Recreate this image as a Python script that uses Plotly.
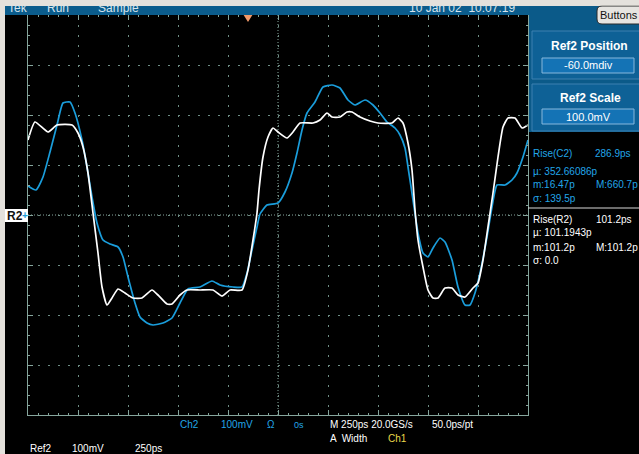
import plotly.graph_objects as go

# ---- data (time in ps, amplitude in mV) ----
t_ref2 = [0, 35, 100, 145, 220, 250, 275, 300, 325, 350, 370, 395, 420, 450, 485,
          525, 570, 620, 650, 695, 720, 760, 795, 860, 925, 970, 1010, 1070, 1100, 1125,
          1145, 1155, 1175, 1200, 1225, 1250, 1295, 1325, 1360, 1425, 1460, 1495, 1520, 1560, 1595,
          1620, 1660, 1710, 1750, 1820, 1850, 1875, 1900, 1920, 1935, 1950, 1975, 2000, 2025, 2050,
          2085, 2120, 2150, 2185, 2225, 2250, 2275, 2300, 2325, 2350, 2375, 2400, 2435, 2470, 2500]
v_ref2 = [150, 186, 166, 180, 180, 164, 136, 84, 4, -76, -144, -180, -166, -148, -156,
          -166, -166, -150, -160, -178, -178, -160, -150, -150, -150, -162, -150, -150, -110, -50,
          4, 50, 116, 156, 174, 166, 154, 166, 184, 184, 190, 204, 196, 196, 206,
          206, 196, 188, 184, 184, 194, 184, 144, 90, 10, -50, -104, -150, -166, -166,
          -146, -146, -160, -164, -146, -136, -90, -24, 44, 116, 176, 194, 194, 174, 180]

t_ch2 = [0, 40, 75, 110, 145, 175, 210, 235, 270, 295, 320, 345, 375, 410, 450,
         475, 500, 535, 560, 595, 625, 675, 720, 760, 800, 860, 920, 960, 1025, 1070,
         1095, 1120, 1145, 1160, 1195, 1250, 1285, 1320, 1345, 1370, 1395, 1435, 1475, 1520, 1560,
         1600, 1635, 1685, 1725, 1760, 1795, 1835, 1860, 1885, 1900, 1925, 1950, 1975, 2000, 2025,
         2060, 2085, 2120, 2150, 2185, 2210, 2235, 2260, 2295, 2320, 2345, 2385, 2420, 2445, 2475, 2500]
v_ch2 = [58, 50, 76, 126, 180, 224, 226, 204, 150, 96, 36, -16, -50, -58, -64,
         -84, -124, -176, -204, -216, -220, -216, -206, -176, -148, -144, -132, -140, -144, -144,
         -116, -70, -24, 2, 20, 24, 46, 84, 124, 170, 204, 226, 256, 260, 254,
         230, 220, 230, 220, 204, 186, 174, 160, 134, 96, 30, -36, -76, -84, -66,
         -46, -54, -90, -144, -180, -180, -156, -116, -44, 16, 60, 60, 70, 84, 116, 150]

x_range = [0, 2500]      # 10 div x 250 ps
y_range = [-400, 400]    # 8 div x 100 mV
x_div, y_div = 250, 100

W, H = 639, 454
L, R, T, B = 28, 528, 15, 415


def px(x):
    return (x - L) / (R - L)


def py(y):
    return (B - y) / (B - T)


GRID = "#6f8d85"
BORDER = "#86a69d"
BLUE = "#1a9ddb"
FONT = "Liberation Sans, Arial"

fig = go.Figure()
fig.add_trace(go.Scatter(x=t_ch2, y=v_ch2, mode="lines", name="Ch2",
                         line=dict(color=BLUE, width=1.7, shape="spline", smoothing=0.5),
                         hoverinfo="skip"))
fig.add_trace(go.Scatter(x=t_ref2, y=v_ref2, mode="lines", name="Ref2",
                         line=dict(color="#ffffff", width=1.7, shape="spline", smoothing=0.5),
                         hoverinfo="skip"))

common = dict(showgrid=True, gridcolor=GRID, gridwidth=1, griddash="2px,8px",
              zeroline=False, showline=True, linecolor=BORDER, linewidth=1,
              mirror="ticks", ticks="inside", ticklen=5, tickcolor=BORDER,
              showticklabels=False, fixedrange=True)
center = dict(showgrid=False, zeroline=False, showline=False, anchor="free", position=0.5,
              ticklen=3, tickcolor=BORDER, showticklabels=False)

fig.update_layout(
    width=W, height=H, autosize=False,
    margin=dict(l=L, r=W - R, t=T, b=H - B, pad=0),
    paper_bgcolor="#000000", plot_bgcolor="#000000",
    showlegend=False,
    xaxis=dict(range=x_range, tick0=0, dtick=x_div,
               minor=dict(dtick=x_div / 5, ticks="inside", ticklen=2, tickcolor=BORDER, showgrid=False),
               **common),
    yaxis=dict(range=y_range, tick0=0, dtick=y_div,
               minor=dict(dtick=y_div / 5, ticks="inside", ticklen=2, tickcolor=BORDER, showgrid=False),
               **common),
    xaxis2=dict(overlaying="x", range=x_range, tick0=0, dtick=x_div / 5, ticks="inside", **center),
    xaxis3=dict(overlaying="x", range=x_range, tick0=0, dtick=x_div / 5, ticks="outside", **center),
    yaxis2=dict(overlaying="y", range=y_range, tick0=0, dtick=y_div / 5, ticks="inside", **center),
    yaxis3=dict(overlaying="y", range=y_range, tick0=0, dtick=y_div / 5, ticks="outside", **center),
)

shapes = []


def rect(x0, y0, x1, y1, fill, line=None, lw=0):
    shapes.append(dict(type="rect", xref="paper", yref="paper",
                       x0=px(x0), x1=px(x1), y0=py(y1), y1=py(y0),
                       fillcolor=fill, line=dict(color=line or fill, width=lw), layer="above"))


# frame chrome
rect(0, 0, 5, H, "#e4e1dc")
rect(0, 0, W, 6, "#e4e1dc")
rect(5, 6, W, 15, "#0b5c8c")
rect(529, 6, W, 132, "#0b5a89")
rect(532, 31, W + 2, 79, "#0e6196", "#3d80b0", 1)
rect(532, 84, W + 2, 131, "#0e6196", "#3d80b0", 1)
rect(542, 58, 634, 73, "#1473b5", "#86b8dc", 1)
rect(542, 109, 634, 124, "#1473b5", "#86b8dc", 1)
# Buttons (rounded)
bx0, bx1, by0, by1, r = 597, 640, 6, 24, 5
path = (f"M {px(bx0 + r)},{py(by0)} L {px(bx1)},{py(by0)} L {px(bx1)},{py(by1)} "
        f"L {px(bx0 + r)},{py(by1)} Q {px(bx0)},{py(by1)} {px(bx0)},{py(by1 - r)} "
        f"L {px(bx0)},{py(by0 + r)} Q {px(bx0)},{py(by0)} {px(bx0 + r)},{py(by0)} Z")
shapes.append(dict(type="path", xref="paper", yref="paper", path=path,
                   fillcolor="#e6e4e0", line=dict(color="#2a2a2a", width=1), layer="above"))
# separator in measurement panel
shapes.append(dict(type="line", xref="paper", yref="paper", x0=px(528), x1=px(W), y0=py(208), y1=py(208),
                   line=dict(color="#d8d8d8", width=1), layer="above"))
# R2 marker
rect(5, 209, 28, 222, "#ffffff")
# center graticule lines
shapes.append(dict(type="line", xref="paper", yref="y", x0=0, x1=1, y0=0, y1=0,
                   line=dict(color=BORDER, width=1, dash="1px,2px"), layer="below"))
shapes.append(dict(type="line", xref="x", yref="paper", x0=1250, x1=1250, y0=0, y1=1,
                   line=dict(color=BORDER, width=1, dash="1px,2px"), layer="below"))
# trigger position marker
shapes.append(dict(type="path", xref="x", yref="paper",
                   path=f"M 1078,{py(15)} L 1122,{py(15)} L 1100,{py(22)} Z",
                   fillcolor="#f29a6a", line=dict(color="#f29a6a", width=0), layer="above"))
fig.update_layout(shapes=shapes)

ann = []


def text(s, x, y, color="#ffffff", size=10, anchor="left", bold=False, family=FONT):
    ann.append(dict(text=f"<b>{s}</b>" if bold else s, x=px(x), y=py(y), xref="paper", yref="paper",
                    xanchor=anchor, yanchor="middle", showarrow=False,
                    font=dict(color=color, size=size, family=family)))


HDR = "#d6e4ee"
text("Tek", 6, 8, HDR, 12)
text("Run", 45, 8, HDR, 12)
text("Sample", 96, 8, HDR, 12)
text("10 Jan 02  10:07:19", 407, 8, HDR, 12)
# grey window strip drawn over the top of the header texts (they are cut off in the screenshot)
ann.append(dict(text="", x=0, y=1, xref="paper", yref="paper", xanchor="left", yanchor="bottom",
                xshift=-L, yshift=T - 6, width=W, height=6, borderpad=0, bgcolor="#e4e1dc",
                showarrow=False))
text("Buttons", 619, 15, "#111111", 11, "center")

text("Ref2 Position", 589, 46, "#ffffff", 12, "center", True)
text("-60.0mdiv", 588, 65, "#ffffff", 11, "center")
text("Ref2 Scale", 590, 98, "#ffffff", 12, "center", True)
text("100.0mV", 588, 117, "#ffffff", 11, "center")

MB = "#22a6e8"
text("Rise(C2)", 531, 153, MB)
text("286.9ps", 593, 153, MB)
text("µ: 352.66086p", 531, 171, MB)
text("m:16.47p", 531, 184, MB)
text("M:660.7p", 594, 184, MB)
text("σ: 139.5p", 531, 198, MB)

text("Rise(R2)", 531, 219)
text("101.2ps", 594, 219)
text("µ: 101.1943p", 531, 233)
text("m:101.2p", 531, 247)
text("M:101.2p", 594, 247)
text("σ: 0.0", 531, 260)

text("R2", 15, 216, "#111111", 12, "center", True)
text("+", 25, 215, "#1a9ddb", 10, "center", True)

text("Ch2", 178, 425, MB)
text("100mV", 219, 425, MB)
text("Ω", 265, 425, MB)
text("0s", 292, 425, MB, 9)
text("M 250ps 20.0GS/s", 328, 425)
text("50.0ps/pt", 430, 425)
text("A  Width", 328, 438)
text("Ch1", 386, 438, "#e8d84a")
text("Ref2", 28, 448)
text("100mV", 70, 448)
text("250ps", 133, 448)

fig.update_layout(annotations=ann)

fig.write_html("out.html", config={"displayModeBar": False},
               post_script="document.body.style.margin='0px';")
